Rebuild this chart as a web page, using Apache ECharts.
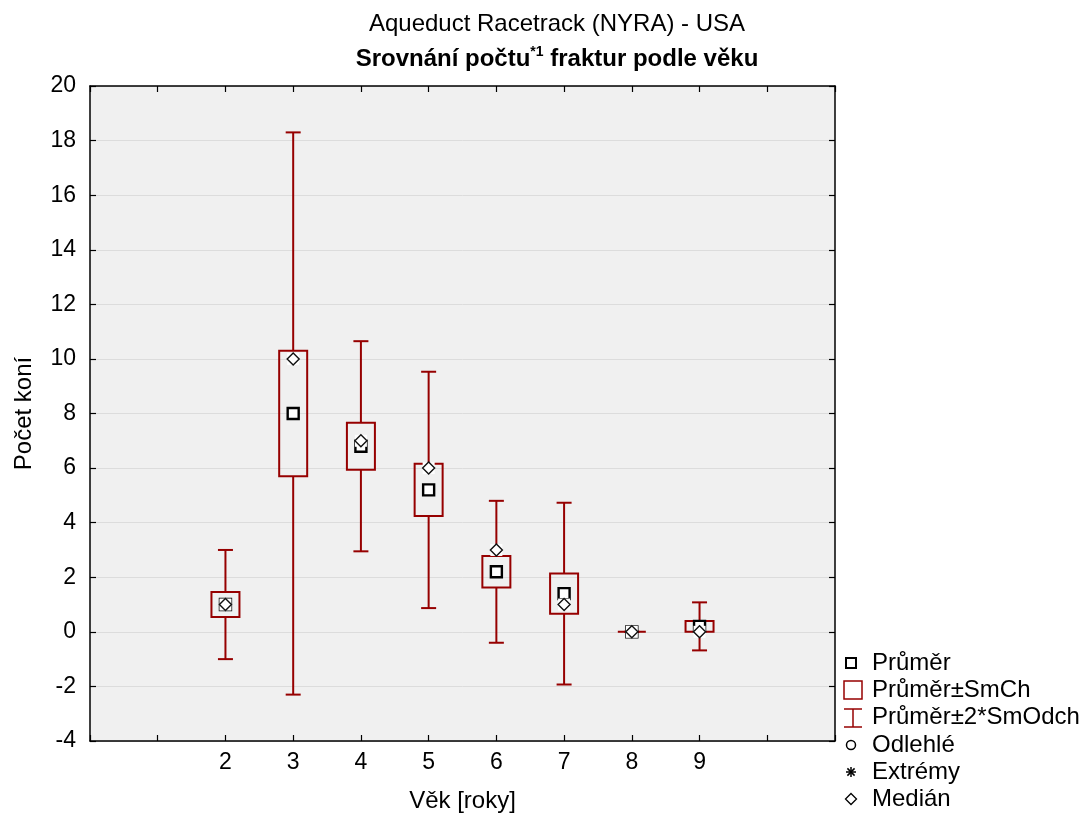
<!DOCTYPE html>
<html>
<head>
<meta charset="utf-8">
<script src="https://cdn.jsdelivr.net/npm/echarts@6/dist/echarts.min.js"></script>
<style>
html,body{margin:0;padding:0;background:#fff;}
#c{width:1083px;height:819px;}
</style>
</head>
<body>
<div id="c"></div>
<script>
// Data
const ages    = [2, 3, 4, 5, 6, 7, 8, 9];
const means   = [1.0, 8.0, 6.8, 5.2, 2.2, 1.4, 0.0, 0.2];
const stdErr  = [0.46, 2.3, 0.86, 0.96, 0.58, 0.74, 0.0, 0.2];
const twoSd   = [2.0, 10.3, 3.85, 4.33, 2.6, 3.33, 0.0, 0.88];
const medians = [1, 10, 7, 6, 3, 1, 0, 0];
const yTicks  = [-4, -2, 0, 2, 4, 6, 8, 10, 12, 14, 16, 18, 20];
const legendLabels = ['Průměr', 'Průměr±SmCh', 'Průměr±2*SmOdch', 'Odlehlé', 'Extrémy', 'Medián'];

const RED = '#960000';
const FONT = '"Liberation Sans", Arial, sans-serif';

const boxData = ages.map((a, i) => [a, means[i], stdErr[i], twoSd[i]]);
const meanData = ages.map((a, i) => [a, means[i]]);
const medData = ages.map((a, i) => [a, medians[i]]);

function renderBox(params, api) {
  const x = api.value(0), m = api.value(1), se = api.value(2), sd = api.value(3);
  const c = api.coord([x, m]);
  const top = api.coord([x, m + se])[1], bot = api.coord([x, m - se])[1];
  const wt = api.coord([x, m + sd])[1], wb = api.coord([x, m - sd])[1];
  const bw = 28, cw = 15;
  const st = {stroke: RED, lineWidth: 2, fill: 'none'};
  return {type: 'group', children: [
    {type: 'line', shape: {x1: c[0], y1: wt, x2: c[0], y2: top}, style: st},
    {type: 'line', shape: {x1: c[0], y1: bot, x2: c[0], y2: wb}, style: st},
    {type: 'line', shape: {x1: c[0] - cw / 2, y1: wt, x2: c[0] + cw / 2, y2: wt}, style: st},
    {type: 'line', shape: {x1: c[0] - cw / 2, y1: wb, x2: c[0] + cw / 2, y2: wb}, style: st},
    {type: 'rect', shape: {x: c[0] - bw / 2, y: top, width: bw, height: bot - top}, style: st}
  ]};
}

function renderMedian(params, api) {
  const c = api.coord([api.value(0), api.value(1)]);
  const h = 6;
  return {type: 'group', children: [
    {type: 'rect', shape: {x: c[0] - h, y: c[1] - h, width: 2 * h, height: 2 * h}, style: {fill: '#fff'}},
    {type: 'polygon', shape: {points: [[c[0], c[1] - h], [c[0] + h, c[1]], [c[0], c[1] + h], [c[0] - h, c[1]]]},
      style: {fill: '#fff', stroke: '#111', lineWidth: 1.4}}
  ]};
}

// Legend built from graphic elements
const LX = 851, TX = 872;
const LY = [663, 690, 717, 745, 772, 799];
const legendGraphics = [
  {type: 'rect', shape: {x: LX - 5, y: LY[0] - 5, width: 10, height: 10}, style: {fill: '#fff', stroke: '#000', lineWidth: 2}},
  {type: 'rect', shape: {x: 844, y: LY[1] - 9, width: 18, height: 18}, style: {fill: 'none', stroke: RED, lineWidth: 1.5}},
  {type: 'polyline', shape: {points: [[844, LY[2] - 8], [862, LY[2] - 8]]}, style: {stroke: RED, lineWidth: 1.5}},
  {type: 'polyline', shape: {points: [[853, LY[2] - 8], [853, LY[2] + 10]]}, style: {stroke: RED, lineWidth: 1.5}},
  {type: 'polyline', shape: {points: [[844, LY[2] + 10], [862, LY[2] + 10]]}, style: {stroke: RED, lineWidth: 1.5}},
  {type: 'circle', shape: {cx: LX, cy: LY[3], r: 4.5}, style: {fill: '#fff', stroke: '#000', lineWidth: 1.5}},
  {type: 'polyline', shape: {points: [[LX - 5, LY[4]], [LX + 5, LY[4]]]}, style: {stroke: '#000', lineWidth: 1.5}},
  {type: 'polyline', shape: {points: [[LX, LY[4] - 5], [LX, LY[4] + 5]]}, style: {stroke: '#000', lineWidth: 1.5}},
  {type: 'polyline', shape: {points: [[LX - 3.6, LY[4] - 3.6], [LX + 3.6, LY[4] + 3.6]]}, style: {stroke: '#000', lineWidth: 1.5}},
  {type: 'polyline', shape: {points: [[LX - 3.6, LY[4] + 3.6], [LX + 3.6, LY[4] - 3.6]]}, style: {stroke: '#000', lineWidth: 1.5}},
  {type: 'polygon', shape: {points: [[LX, LY[5] - 5.5], [LX + 5.5, LY[5]], [LX, LY[5] + 5.5], [LX - 5.5, LY[5]]]}, style: {fill: '#fff', stroke: '#000', lineWidth: 1.3}}
];
legendLabels.forEach((t, i) => {
  legendGraphics.push({type: 'text', x: TX, y: LY[i], style: {text: t, font: '24px ' + FONT, fill: '#000', textVerticalAlign: 'middle', verticalAlign: 'middle'}});
});

const tickStyle = {show: true, inside: true, length: 6, lineStyle: {color: '#000', width: 1.2}};
const lineStyle = {show: true, onZero: false, lineStyle: {color: '#000', width: 1.5}};

const chart = echarts.init(document.getElementById('c'), null, {renderer: 'canvas'});
chart.setOption({
  animation: false,
  backgroundColor: '#fff',
  textStyle: {fontFamily: FONT},
  title: [
    {text: 'Aqueduct Racetrack (NYRA) - USA', left: 552, top: 7, textAlign: 'center',
      textStyle: {fontFamily: FONT, fontSize: 24, fontWeight: 'normal', color: '#000'}},
    {text: '{b|Srovnání počtu}{s|*1}{b| fraktur podle věku}', left: 552, top: 40, textAlign: 'center',
      textStyle: {fontFamily: FONT, color: '#000', rich: {
        b: {fontFamily: FONT, fontSize: 24, fontWeight: 'bold', color: '#000', lineHeight: 28},
        s: {fontFamily: FONT, fontSize: 14, fontWeight: 'bold', color: '#000', lineHeight: 14, verticalAlign: 'top'}
      }}}
  ],
  grid: {left: 90, right: 248, top: 86, bottom: 78, show: true, backgroundColor: '#f0f0f0', borderWidth: 0},
  xAxis: [
    {type: 'value', min: 0, max: 11, interval: 1, position: 'bottom',
      name: 'Věk [roky]', nameLocation: 'middle', nameGap: 48,
      nameTextStyle: {fontFamily: FONT, fontSize: 24, color: '#000'},
      axisLine: lineStyle, axisTick: tickStyle,
      axisLabel: {fontFamily: FONT, fontSize: 23, color: '#000', margin: 10,
        formatter: v => (v >= 2 && v <= 9) ? String(v) : ''},
      splitLine: {show: false}},
    {type: 'value', min: 0, max: 11, interval: 1, position: 'top',
      axisLine: lineStyle, axisTick: tickStyle,
      axisLabel: {show: false}, splitLine: {show: false}}
  ],
  yAxis: [
    {type: 'value', min: yTicks[0], max: yTicks[yTicks.length - 1], interval: 2, position: 'left',
      name: 'Počet koní', nameLocation: 'middle', nameGap: 54, nameRotate: 90,
      nameTextStyle: {fontFamily: FONT, fontSize: 24, color: '#000'},
      axisLine: lineStyle, axisTick: tickStyle,
      axisLabel: {fontFamily: FONT, fontSize: 23, color: '#000', margin: 14},
      splitLine: {show: true, lineStyle: {color: '#dcdcdc', width: 1}}},
    {type: 'value', min: yTicks[0], max: yTicks[yTicks.length - 1], interval: 2, position: 'right',
      axisLine: lineStyle, axisTick: tickStyle,
      axisLabel: {show: false}, splitLine: {show: false}}
  ],
  series: [
    {type: 'custom', name: 'Průměr±SmCh', renderItem: renderBox, data: boxData,
      encode: {x: 0, y: 1}, xAxisIndex: 0, yAxisIndex: 0, z: 3},
    {type: 'scatter', name: 'Průměr', data: meanData, symbol: 'rect', symbolSize: 11,
      itemStyle: {color: '#fff', borderColor: '#000', borderWidth: 2.4, opacity: 1}, z: 4},
    {type: 'custom', name: 'Medián', renderItem: renderMedian, data: medData,
      encode: {x: 0, y: 1}, z: 5}
  ],
  graphic: legendGraphics
});
</script>
</body>
</html>
